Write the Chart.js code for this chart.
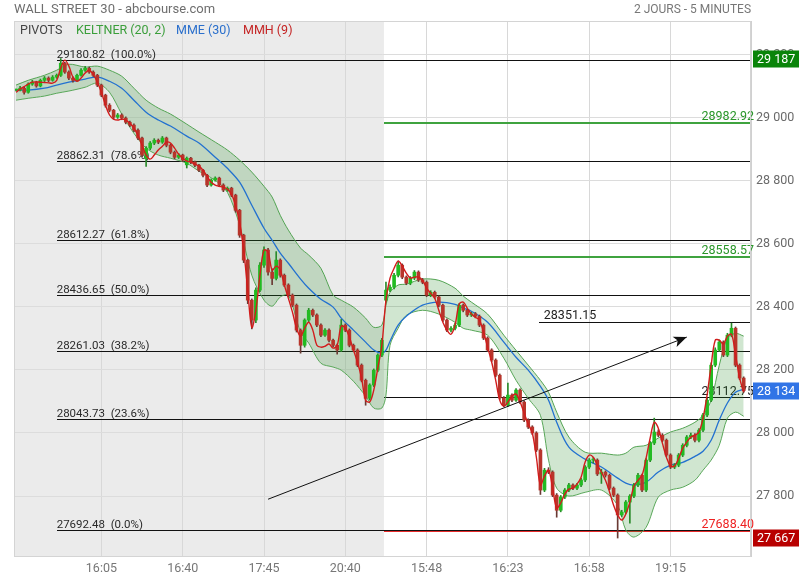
<!DOCTYPE html>
<html><head><meta charset="utf-8">
<script src="https://cdn.jsdelivr.net/npm/chart.js@4"></script>
<style>html,body{margin:0;padding:0;background:#fff}canvas{display:block}</style>
</head><body>
<canvas id="c" width="800" height="580"></canvas>
<script>
const title = 'WALL STREET 30 - abcbourse.com';
const subtitle = '2 JOURS - 5 MINUTES';
const legendItems = ['PIVOTS', 'KELTNER (20, 2)', 'MME (30)', 'MMH (9)'];
const xTickIdx = [21, 41, 61, 81, 101, 121, 141, 161];
const xTickLabels = ['16:05', '16:40', '17:45', '20:40', '15:48', '16:23', '16:58', '19:15'];
const yTicks = [27800, 28000, 28200, 28400, 28600, 28800, 29000, 29200];
const day2Start = 90.5;

const open = [
29087,29087,29093,29080,29106,29112,29100,29118,29125,29118,
29128,29134,29172,29144,29125,29118,29134,29150,29156,29144,
29134,29103,29071,29039,29023,29001,29008,28998,28985,28976,
28960,28935,28870,28903,28919,28928,28922,28935,28912,28890,
28874,28881,28850,28871,28859,28849,28833,28817,28786,28802,
28808,28786,28770,28776,28754,28706,28627,28548,28421,28358,
28453,28532,28580,28510,28490,28548,28500,28469,28437,28405,
28326,28278,28358,28389,28374,28342,28310,28326,28294,28278,
28263,28342,28326,28278,28263,28215,28167,28110,28152,28199,
28247,28421,28453,28462,28500,28532,28494,28475,28491,28510,
28485,28478,28437,28446,28431,28405,28358,28326,28332,28342,
28405,28389,28374,28378,28370,28342,28301,28263,28231,28183,
28111,28088,28120,28104,28136,28098,28041,28019,28000,27946,
27819,27882,27876,27803,27755,27797,27819,27835,27825,27835,
27851,27892,27914,27914,27870,27876,27866,27825,27803,27740,
27749,27781,27800,27835,27866,27819,27914,27968,28003,27993,
27977,27930,27892,27898,27930,27961,27987,27993,27977,28009,
28057,28104,28215,28263,28288,28247,28310,28332,28215,28174];
const high = [
29090,29099,29096,29110,29118,29115,29122,29130,29129,29133,
29138,29187,29175,29148,29129,29138,29155,29162,29160,29148,
29137,29106,29074,29044,29026,29013,29012,29002,28989,28980,
28964,28938,28908,28924,28933,28932,28940,28938,28915,28894,
28886,28884,28875,28874,28862,28852,28836,28820,28806,28812,
28811,28790,28780,28779,28757,28709,28630,28551,28425,28460,
28540,28590,28585,28520,28575,28552,28504,28473,28441,28409,
28330,28362,28395,28393,28378,28346,28331,28330,28298,28282,
28360,28346,28330,28282,28267,28219,28171,28156,28203,28251,
28300,28478,28470,28506,28545,28536,28498,28496,28515,28514,
28490,28482,28451,28450,28435,28409,28362,28337,28348,28410,
28409,28393,28383,28382,28374,28346,28305,28267,28235,28187,
28115,28158,28124,28141,28140,28102,28045,28023,28004,27950,
27888,27890,27880,27808,27802,27824,27840,27839,27840,27856,
27897,27919,27922,27918,27885,27880,27870,27829,27807,27755,
27786,27805,27840,27872,27870,27919,27973,28047,28010,27998,
27981,27934,27903,27935,27966,27992,28000,27998,28014,28062,
28110,28222,28270,28295,28292,28316,28348,28336,28219,28178];
const low = [
29084,29084,29074,29077,29102,29096,29097,29114,29113,29115,
29124,29130,29140,29120,29112,29115,29131,29146,29140,29130,
29098,29066,29033,29018,28995,28997,28993,28980,28971,28955,
28930,28876,28845,28898,28914,28917,28918,28907,28885,28869,
28870,28860,28840,28854,28844,28828,28812,28781,28782,28798,
28781,28765,28766,28749,28700,28620,28540,28410,28330,28350,
28448,28525,28500,28470,28485,28494,28464,28432,28400,28320,
28253,28272,28352,28369,28337,28305,28306,28289,28273,28250,
28258,28321,28273,28258,28210,28162,28088,28105,28147,28194,
28242,28415,28448,28457,28495,28489,28470,28470,28486,28480,
28473,28432,28432,28426,28400,28353,28321,28320,28327,28337,
28384,28369,28369,28365,28337,28296,28258,28226,28178,28106,
28083,28084,28099,28100,28093,28036,28014,27995,27941,27805,
27814,27871,27798,27733,27750,27792,27814,27820,27820,27830,
27846,27887,27905,27865,27840,27860,27820,27798,27667,27735,
27744,27714,27795,27830,27814,27814,27909,27963,27988,27972,
27925,27887,27887,27893,27925,27956,27982,27972,27972,28004,
28052,28099,28210,28258,28242,28242,28305,28210,28169,28129];
const close = [
29087,29093,29080,29106,29112,29100,29118,29125,29118,29128,
29134,29172,29144,29125,29118,29134,29150,29156,29144,29134,
29103,29071,29039,29023,29001,29008,28998,28985,28976,28960,
28935,28881,28903,28919,28928,28922,28935,28912,28890,28874,
28881,28865,28871,28859,28849,28833,28817,28786,28802,28808,
28786,28770,28776,28754,28706,28627,28548,28421,28358,28453,
28532,28580,28510,28490,28548,28500,28469,28437,28405,28326,
28278,28358,28389,28374,28342,28310,28326,28294,28278,28263,
28342,28326,28278,28263,28215,28167,28110,28152,28199,28247,
28294,28453,28462,28500,28532,28494,28475,28491,28510,28485,
28478,28437,28446,28431,28405,28358,28326,28332,28342,28405,
28389,28374,28378,28370,28342,28301,28263,28231,28183,28111,
28088,28120,28104,28136,28098,28041,28019,28000,27946,27819,
27882,27876,27803,27755,27797,27819,27835,27825,27835,27851,
27892,27914,27914,27870,27876,27866,27825,27803,27740,27749,
27781,27800,27835,27866,27819,27914,27968,28003,27993,27977,
27930,27892,27898,27930,27961,27987,27993,27977,28009,28057,
28104,28215,28263,28288,28247,28310,28332,28215,28174,28134];

// MMH (9) – Hull moving average, one value per candle
const hull = [
29080,29090,29098,29106,29112,29113,29112,29111,29110,29109,
29118,29157,29182,29163,29128,29115,29125,29141,29150,29137,
29112,29080,29039,29008,28995,28992,28995,28992,28982,28966,
28944,28912,28881,28868,28881,28897,28909,28922,28919,28903,
28884,28871,28862,28859,28852,28846,28833,28814,28795,28786,
28782,28779,28773,28757,28722,28668,28580,28453,28335,28389,
28500,28580,28573,28516,28529,28516,28469,28427,28383,28332,
28307,28332,28351,28326,28278,28272,28275,28282,28269,28278,
28339,28332,28304,28263,28224,28174,28104,28098,28136,28206,
28279,28421,28491,28522,28545,28529,28507,28491,28494,28494,
28484,28459,28443,28427,28389,28351,28326,28313,28342,28408,
28415,28396,28377,28367,28358,28320,28272,28225,28167,28104,
28085,28098,28117,28123,28098,28063,28028,28000,27923,27835,
27863,27882,27825,27762,27778,27806,27822,27825,27838,27860,
27908,27930,27923,27898,27876,27850,27813,27771,27740,27724,
27743,27781,27831,27850,27866,27920,27984,28034,28015,27968,
27923,27895,27895,27920,27952,27971,27987,27993,28003,28047,
28120,28215,28294,28294,28282,28307,28313,28247,28174,28129];

// Keltner (20, 2) and MME (30), read at these candle indices
const bandIdx = [0,3,7,10,13,17,20,23,26,29,32,35,38,42,45,49,52,55,58,61,
63,65,67,70,72,75,78,80,83,86,88,90,91,92,94,96,100,104,108,110,
112,116,120,123,126,129,131,133,136,140,144,148,150,152,155,158,161,164,167,169,
171,173,175,177,179];
const kUpper = [29103,29118,29134,29150,29169,29160,29163,29150,29131,29093,
29055,29030,29011,28979,28954,28922,28897,28865,28827,28782,
28748,28690,28643,28586,28564,28522,28437,28421,28399,28364,
28335,28342,28405,28446,28469,28472,28488,28484,28459,28434,
28415,28377,28310,28262,28215,28167,28129,28066,27987,27939,
27936,27930,27936,27955,27961,27984,28003,28015,28034,28056,
28104,28215,28301,28316,28307];
const kLower = [29055,29061,29068,29077,29084,29096,29109,29080,29011,28950,
28903,28881,28871,28855,28830,28801,28763,28659,28500,28421,
28402,28431,28437,28320,28285,28221,28209,28199,28164,28117,
28079,28079,28120,28278,28332,28373,28389,28377,28351,28332,
28326,28310,28237,28167,28110,28056,27914,27825,27800,27812,
27819,27771,27692,27670,27701,27797,27819,27828,27850,27882,
27914,27961,28047,28066,28053];
const ema = [29087,29087,29093,29103,29112,29122,29128,29115,29093,29055,
29017,28992,28973,28941,28919,28874,28839,28795,28722,28649,
28611,28570,28538,28488,28459,28424,28399,28364,28326,28288,
28263,28253,28263,28291,28342,28370,28405,28415,28408,28396,
28386,28351,28288,28240,28199,28148,28104,28034,27955,27917,
27892,27857,27841,27835,27844,27876,27898,27907,27926,27942,
27977,28041,28095,28129,28139];

// Fibonacci retracement (pivots)
const fibValues = [29180.82, 28862.31, 28612.27, 28436.65, 28261.03, 28043.73, 27692.48];
const fibPct = ['100.0%', '78.6%', '61.8%', '50.0%', '38.2%', '23.6%', '0.0%'];
const fibStart = 10;
const greenLevels = [28982.92, 28558.57];
const redLevel = 27688.40;
const blackLevel = 28112.75;
const resistLevel = 28351.15;
const resistStart = 128.6;
// trend arrow
const arrowIdx = [62, 165];
const arrowVal = [27790, 28304];
// right-hand markers
const markHigh = 29187, markLow = 27667, lastPrice = 28134;

const xMin = -0.5, xMax = 180.8, yMin = 27610, yMax = 29306;

const FONT = 'Roboto';
Chart.defaults.font.family = FONT;

const idx = close.map((_, i) => i);
const upCol = '#22bb22', downCol = '#b8352b';
const bodyColors = close.map((c, i) => c >= open[i] ? upCol : downCol);
const wickColors = close.map((c, i) => c >= open[i] ? '#2a8a2a' : '#6a3a34');

const datasets = [];
datasets.push({ type: 'line', label: 'upper', data: bandIdx.map((k, j) => ({x: k, y: kUpper[j]})),
  borderColor: '#5aa85a', borderWidth: 1, pointRadius: 0, fill: false, tension: 0.3, order: 6 });
datasets.push({ type: 'line', label: 'lower', data: bandIdx.map((k, j) => ({x: k, y: kLower[j]})),
  borderColor: '#5aa85a', borderWidth: 1, pointRadius: 0, fill: '-1',
  backgroundColor: 'rgba(40,140,40,0.22)', tension: 0.3, order: 5 });
datasets.push({ type: 'line', label: 'ema', data: bandIdx.map((k, j) => ({x: k, y: ema[j]})),
  borderColor: '#2271d0', borderWidth: 1.3, pointRadius: 0, fill: false, tension: 0.35, order: 4 });
datasets.push({ type: 'bar', label: 'wicks', data: idx.map(i => ({x: i, y: [low[i], high[i]]})),
  backgroundColor: wickColors, barThickness: 1, grouped: false, order: 3, minBarLength: 1 });
datasets.push({ type: 'bar', label: 'bodies', data: idx.map(i => ({x: i, y: [open[i], close[i]]})),
  backgroundColor: bodyColors, barThickness: 3, grouped: false, order: 2, minBarLength: 1 });
datasets.push({ type: 'line', label: 'hull', data: idx.map(i => ({x: i, y: hull[i]})),
  borderColor: '#d21c1c', borderWidth: 1.4, pointRadius: 0, fill: false, tension: 0.35, order: 1 });
const arrowIndex = datasets.length;
datasets.push({ type: 'line', label: 'arrow', data: arrowIdx.map((k, j) => ({x: k, y: arrowVal[j]})),
  borderColor: '#111', borderWidth: 1, pointRadius: 0, fill: false, order: 0 });

function fmtSpace(v) {
  const s = String(Math.round(v));
  return s.slice(0, s.length - 3) + ' ' + s.slice(-3);
}

const decor = {
  id: 'decor',
  beforeDraw(chart) {
    const {ctx, chartArea: a, scales: {x}} = chart;
    ctx.save();
    ctx.fillStyle = '#fff';
    ctx.fillRect(0, 0, chart.width, chart.height);
    const xb = x.getPixelForValue(day2Start);
    ctx.fillStyle = '#ebebeb';
    ctx.fillRect(a.left, a.top, xb - a.left, a.bottom - a.top);
    ctx.restore();
  },
  beforeDatasetsDraw(chart) {
    const {ctx, chartArea: a, scales: {x, y}} = chart;
    const hline = (v, start, color, w) => {
      const py = Math.round(y.getPixelForValue(v)) + (w % 2 ? 0.5 : 0);
      ctx.strokeStyle = color; ctx.lineWidth = w;
      ctx.beginPath(); ctx.moveTo(Math.round(x.getPixelForValue(start)), py); ctx.lineTo(a.right, py); ctx.stroke();
    };
    ctx.save();
    fibValues.forEach(v => hline(v, fibStart, '#111', 1));
    greenLevels.forEach(v => hline(v, day2Start, '#3fa33f', 2));
    hline(redLevel, day2Start, '#e62a2a', 1);
    hline(blackLevel, day2Start, '#111', 1);
    hline(resistLevel, resistStart, '#111', 1);

    ctx.textBaseline = 'alphabetic';
    ctx.font = '11.5px ' + FONT;
    ctx.fillStyle = '#2a2a2a';
    ctx.textAlign = 'left';
    fibValues.forEach((v, i) => {
      ctx.fillText(v.toFixed(2) + '  (' + fibPct[i] + ')', x.getPixelForValue(fibStart), y.getPixelForValue(v) - 2);
    });
    ctx.font = '12.5px ' + FONT;
    ctx.textAlign = 'right';
    ctx.fillStyle = '#2a962a';
    greenLevels.forEach(v => ctx.fillText(v.toFixed(2), a.right + 3, y.getPixelForValue(v) - 2.5));
    ctx.fillStyle = '#ee2222';
    ctx.fillText(redLevel.toFixed(2), a.right + 3, y.getPixelForValue(redLevel) - 3);
    ctx.fillStyle = '#222';
    ctx.fillText(blackLevel.toFixed(2), a.right + 3, y.getPixelForValue(blackLevel) - 2);
    ctx.textAlign = 'left';
    ctx.fillText(resistLevel.toFixed(2), x.getPixelForValue(resistStart) + 5, y.getPixelForValue(resistLevel) - 3);
    ctx.restore();
  },
  afterDatasetsDraw(chart) {
    const {ctx} = chart;
    const meta = chart.getDatasetMeta(arrowIndex);
    const p0 = meta.data[0], p1 = meta.data[1];
    const ang = Math.atan2(p1.y - p0.y, p1.x - p0.x);
    const L = 13, W = 5.5;
    ctx.save();
    ctx.fillStyle = '#111';
    ctx.beginPath();
    ctx.moveTo(p1.x, p1.y);
    ctx.lineTo(p1.x - L * Math.cos(ang) + W * Math.sin(ang), p1.y - L * Math.sin(ang) - W * Math.cos(ang));
    ctx.lineTo(p1.x - L * 0.75 * Math.cos(ang), p1.y - L * 0.75 * Math.sin(ang));
    ctx.lineTo(p1.x - L * Math.cos(ang) - W * Math.sin(ang), p1.y - L * Math.sin(ang) + W * Math.cos(ang));
    ctx.closePath();
    ctx.fill();
    ctx.restore();
  },
  afterDraw(chart) {
    const {ctx, chartArea: a, scales: {y}} = chart;
    ctx.save();
    ctx.strokeStyle = '#d4d4d4';
    ctx.lineWidth = 1;
    ctx.strokeRect(a.left + 0.5, a.top + 0.5, a.right - a.left - 1, a.bottom - a.top);
    // title
    ctx.textBaseline = 'alphabetic';
    ctx.font = '13px ' + FONT;
    ctx.fillStyle = '#6e6e6e';
    ctx.textAlign = 'left';
    ctx.fillText(title, 14, 13);
    ctx.font = '12px ' + FONT;
    ctx.textAlign = 'right';
    ctx.fillStyle = '#777';
    ctx.fillText(subtitle, a.right, 13);
    // legend row
    ctx.textAlign = 'left';
    ctx.font = '12.5px ' + FONT;
    const lx = [20, 76, 176, 243];
    const lc = ['#444', '#3a9e3a', '#2a6fcc', '#c42424'];
    legendItems.forEach((t, i) => { ctx.fillStyle = lc[i]; ctx.fillText(t, lx[i], 34); });
    // value badges
    const badge = (v, col) => {
      const py = y.getPixelForValue(v);
      ctx.fillStyle = col;
      ctx.fillRect(a.right + 2, Math.round(py) - 8.5, 46, 17);
      ctx.fillStyle = '#fff';
      ctx.font = '12.5px ' + FONT;
      ctx.textAlign = 'left';
      ctx.textBaseline = 'middle';
      ctx.fillText(fmtSpace(v), a.right + 6, Math.round(py) + 0.5);
    };
    badge(markHigh, '#0a840a');
    badge(lastPrice, '#3174e6');
    badge(markLow, '#b80000');
    ctx.restore();
  }
};

new Chart(document.getElementById('c'), {
  type: 'bar',
  data: { datasets },
  options: {
    responsive: false,
    animation: false,
    devicePixelRatio: 1,
    layout: { padding: { left: 14, top: 21, right: 0, bottom: 0 } },
    plugins: { legend: { display: false }, tooltip: { enabled: false } },
    scales: {
      x: {
        type: 'linear', min: xMin, max: xMax, offset: false,
        afterBuildTicks: s => { s.ticks = xTickIdx.map(v => ({value: v})); },
        afterFit: s => { s.height = 24; },
        ticks: { autoSkip: false, maxRotation: 0, padding: 5, color: '#777', font: { size: 12.5, family: FONT },
          callback: (v) => { const k = xTickIdx.indexOf(v); return k >= 0 ? xTickLabels[k] : ''; } },
        grid: { color: '#d8d8d8', drawTicks: false, offset: false },
        border: { display: true, color: '#d0d0d0' }
      },
      y: {
        type: 'linear', position: 'right', min: yMin, max: yMax,
        afterBuildTicks: s => { s.ticks = yTicks.map(v => ({value: v})); },
        afterFit: s => { s.width = 49; },
        ticks: { padding: 5, color: '#6a6a6a', font: { size: 12.5, family: FONT },
          callback: v => fmtSpace(v) },
        grid: { color: '#dcdcdc', drawTicks: false },
        border: { display: true, color: '#d0d0d0' }
      }
    }
  },
  plugins: [decor]
});
</script>
</body></html>
